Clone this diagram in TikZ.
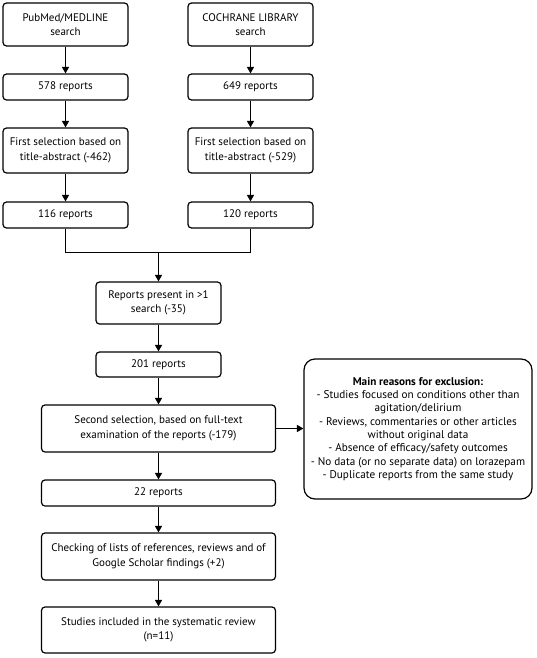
\documentclass[tikz,border=0pt]{standalone}
\usepackage{fontspec}
\setmainfont{PT Sans}
\usetikzlibrary{arrows.meta,positioning,calc}
\begin{document}
\begin{tikzpicture}[x=1pt,y=-1pt,
  box/.style={draw,line width=1.2pt,rounded corners=3.5pt,align=center,inner sep=0pt,
    font=\fontsize{11}{14.5}\selectfont},
  ebox/.style={draw,line width=1.2pt,rounded corners=11pt,align=center,inner sep=0pt,
    font=\fontsize{11.2}{13.3}\selectfont},
  arr/.style={line width=1.2pt,-{Triangle[length=6.5pt,width=7pt]}},
  ln/.style={line width=1.2pt}]
\useasboundingbox (0,0) rectangle (536,658);
% left column
\node[box,minimum width=125pt,minimum height=43pt] (pm) at (65.5,24.5) {PubMed/MEDLINE\\search};
\node[box,minimum width=125pt,minimum height=26pt] (pm2) at (65.5,87) {578 reports};
\node[box,minimum width=125pt,minimum height=45pt] (pm3) at (65.5,150.5) {First selection based on\\title-abstract (-462)};
\node[box,minimum width=125pt,minimum height=26pt] (pm4) at (65.5,215) {116 reports};
% right column
\node[box,minimum width=125pt,minimum height=43pt] (co) at (250.5,24.5) {COCHRANE LIBRARY\\search};
\node[box,minimum width=125pt,minimum height=26pt] (co2) at (250.5,87) {649 reports};
\node[box,minimum width=125pt,minimum height=45pt] (co3) at (250.5,150.5) {First selection based on\\title-abstract (-529)};
\node[box,minimum width=125pt,minimum height=26pt] (co4) at (250.5,215) {120 reports};
% center column
\node[box,minimum width=125pt,minimum height=42pt] (rp) at (158.5,303) {Reports present in >1\\search (-35)};
\node[box,minimum width=125pt,minimum height=25pt] (r201) at (158.5,364.5) {201 reports};
\node[box,minimum width=234pt,minimum height=47pt] (ss) at (158.5,428.5) {Second selection, based on full-text\\examination of the reports (-179)};
\node[box,minimum width=234pt,minimum height=26pt] (r22) at (158.5,493) {22 reports};
\node[box,minimum width=234pt,minimum height=47pt] (ck) at (158.5,556.5) {Checking of lists of references, reviews and of\\Google Scholar findings (+2)};
\node[box,minimum width=234pt,minimum height=46pt] (st) at (158.5,630) {Studies included in the systematic review\\(n=11)};
% exclusion
\node[ebox,minimum width=228pt,minimum height=140pt] (ex) at (418,429) {\textbf{Main reasons for exclusion:}\\- Studies focused on conditions other than\\agitation/delirium\\- Reviews, commentaries or other articles\\without original data\\- Absence of efficacy/safety outcomes\\- No data (or no separate data) on lorazepam\\- Duplicate reports from the same study};
% connectors
\draw[arr] (pm) -- (pm2);
\draw[arr] (pm2) -- (pm3);
\draw[arr] (pm3) -- (pm4);
\draw[arr] (co) -- (co2);
\draw[arr] (co2) -- (co3);
\draw[arr] (co3) -- (co4);
\coordinate (mg) at (158.5,252.5);
\draw[ln] (pm4.south) |- (mg) -| (co4.south);
\draw[arr] (mg) -- (rp.north);
\draw[arr] (rp) -- (r201);
\draw[arr] (r201) -- (ss);
\draw[arr] (ss) -- (r22);
\draw[arr] (r22) -- (ck);
\draw[arr] (ck) -- (st);
\draw[arr] (ss.east) -- (ss.east -| ex.west);
\end{tikzpicture}
\end{document}
